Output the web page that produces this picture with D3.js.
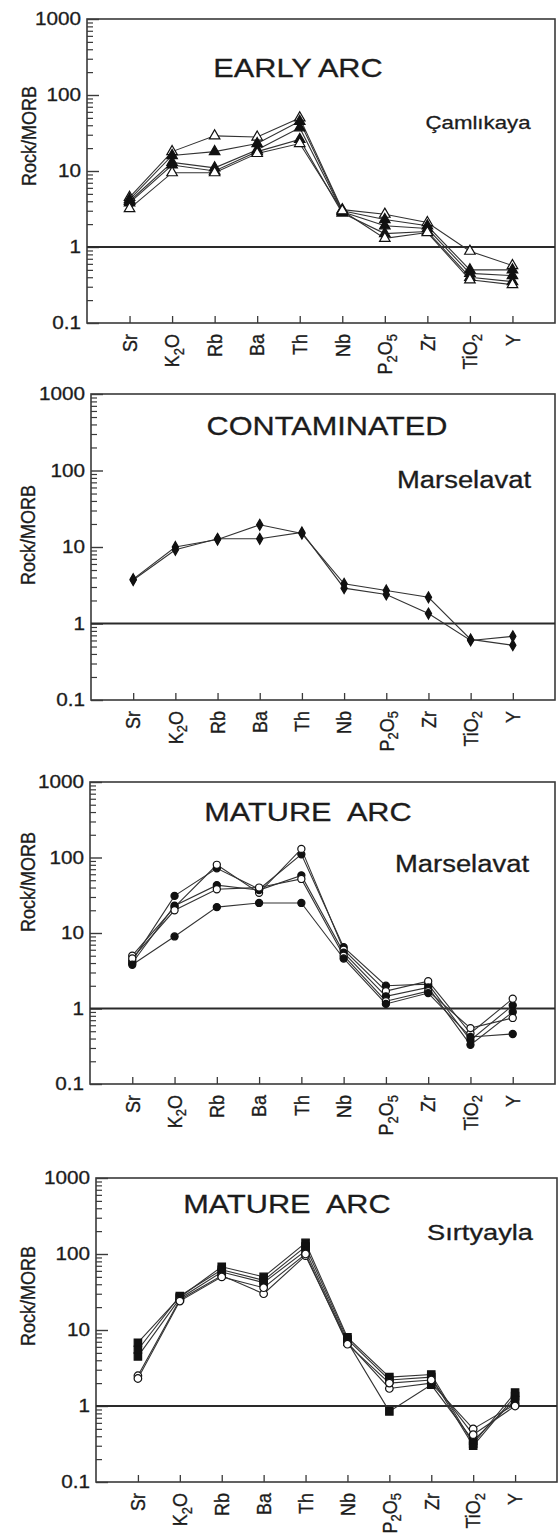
<!DOCTYPE html>
<html>
<head>
<meta charset="utf-8">
<script src="https://cdn.jsdelivr.net/npm/d3@7"></script>
<style>
  html, body { margin: 0; padding: 0; background: #fff; }
  svg { display: block; }
  text { font-family: "Liberation Sans", Arial, Helvetica, sans-serif; fill: #1c1c1c; stroke: #1c1c1c; stroke-width: 0.3; }
</style>
</head>
<body>
<svg id="chart" width="559" height="1538"></svg>
<script>
// MORB-normalised spider diagrams (Rock/MORB), four suites

const elements = ["Sr", "K2O", "Rb", "Ba", "Th", "Nb", "P2O5", "Zr", "TiO2", "Y"];
// label pieces: [text, isSubscript]
const elementLabels = [
  [["Sr", 0]],
  [["K", 0], ["2", 1], ["O", 0]],
  [["Rb", 0]],
  [["Ba", 0]],
  [["Th", 0]],
  [["Nb", 0]],
  [["P", 0], ["2", 1], ["O", 0], ["5", 1]],
  [["Zr", 0]],
  [["TiO", 0], ["2", 1]],
  [["Y", 0]]
];
const yTickValues = [0.1, 1, 10, 100, 1000];
const yTickLabels = ["0.1", "1", "10", "100", "1000"];
const yAxisTitle = "Rock/MORB";

// Early arc — Çamlıkaya
const camlikayaA = [4.5, 18, 29, 28, 50, 3.1, 2.7, 2.1, 0.88, 0.57];
const camlikayaB = [4.2, 16, 18, 23, 45, 3.0, 2.3, 1.9, 0.5, 0.5];
const camlikayaC = [4.0, 13, 11, 19, 37, 2.9, 1.9, 1.75, 0.45, 0.42];
const camlikayaD = [3.8, 12, 10, 18, 26, 2.8, 1.5, 1.6, 0.4, 0.35];
const camlikayaE = [3.2, 9.5, 9.5, 17, 23, 3.0, 1.3, 1.55, 0.37, 0.32];

// Contaminated — Marselavat
const contaminatedA = [3.8, 10, 12.5, 19.5, 15, 3.3, 2.7, 2.2, 0.62, 0.52];
const contaminatedB = [3.7, 9.2, 12.8, 12.8, 15.5, 2.9, 2.4, 1.35, 0.6, 0.68];

// Mature arc — Marselavat
const matureMarselavatA = [4.3, 31, 72, 38, 110, 6.5, 2.0, 2.1, 0.38, 1.1];
const matureMarselavatB = [5.0, 22, 80, 34, 130, 6.0, 1.7, 2.3, 0.47, 1.35];
const matureMarselavatC = [4.0, 23, 43, 37, 58, 5.5, 1.45, 1.9, 0.33, 0.9];
const matureMarselavatD = [4.6, 20, 38, 40, 52, 5.0, 1.25, 1.7, 0.55, 0.75];
const matureMarselavatE = [3.8, 9, 22, 25, 25, 4.6, 1.15, 1.6, 0.42, 0.46];

// Mature arc — Sırtyayla
const sirtyaylaA = [6.8, 27, 68, 50, 140, 8.0, 2.4, 2.6, 0.32, 1.5];
const sirtyaylaB = [5.5, 28, 62, 45, 125, 7.5, 2.2, 2.4, 0.3, 1.35];
const sirtyaylaC = [2.5, 25, 52, 30, 95, 6.8, 1.7, 2.0, 0.5, 1.05];
const sirtyaylaD = [4.5, 26, 58, 42, 110, 7.0, 0.85, 1.9, 0.35, 1.2];
const sirtyaylaE = [2.3, 24, 50, 36, 100, 6.5, 2.0, 2.2, 0.42, 1.0];

const panels = [
  {
    title: "EARLY ARC", locality: "Çamlıkaya",
    box: { left: 87, right: 555, top: 19, bottom: 323 },
    titlePos: [298, 77], localityPos: [478, 129], localityFont: 19, localityWidth: 105,
    yTitlePos: [29, 136],
    series: [
      { values: camlikayaA, symbol: d3.symbolTriangle, size: 48, open: true },
      { values: camlikayaB, symbol: d3.symbolTriangle, size: 48, open: false },
      { values: camlikayaC, symbol: d3.symbolTriangle, size: 48, open: false },
      { values: camlikayaD, symbol: d3.symbolTriangle, size: 48, open: false },
      { values: camlikayaE, symbol: d3.symbolTriangle, size: 48, open: true }
    ]
  },
  {
    title: "CONTAMINATED", locality: "Marselavat",
    box: { left: 91, right: 555, top: 394, bottom: 700 },
    titlePos: [327, 435], localityPos: [464, 488], localityFont: 23, localityWidth: 134,
    yTitlePos: [28, 535],
    series: [
      { values: contaminatedA, symbol: d3.symbolDiamond, size: 34, open: false },
      { values: contaminatedB, symbol: d3.symbolDiamond, size: 34, open: false }
    ]
  },
  {
    title: "MATURE  ARC", locality: "Marselavat",
    box: { left: 90, right: 555, top: 782, bottom: 1084 },
    titlePos: [308, 821], localityPos: [462, 872], localityFont: 23, localityWidth: 134,
    yTitlePos: [28, 882],
    series: [
      { values: matureMarselavatA, symbol: d3.symbolCircle, size: 40, open: false },
      { values: matureMarselavatB, symbol: d3.symbolCircle, size: 40, open: true },
      { values: matureMarselavatC, symbol: d3.symbolCircle, size: 40, open: false },
      { values: matureMarselavatD, symbol: d3.symbolCircle, size: 40, open: true },
      { values: matureMarselavatE, symbol: d3.symbolCircle, size: 40, open: false }
    ]
  },
  {
    title: "MATURE  ARC", locality: "Sırtyayla",
    box: { left: 96, right: 557, top: 1178, bottom: 1482 },
    titlePos: [287, 1213], localityPos: [480, 1240], localityFont: 22, localityWidth: 106,
    yTitlePos: [28, 1296],
    series: [
      { values: sirtyaylaA, symbol: d3.symbolSquare, size: 55, open: false },
      { values: sirtyaylaB, symbol: d3.symbolSquare, size: 55, open: false },
      { values: sirtyaylaC, symbol: d3.symbolCircle, size: 45, open: true },
      { values: sirtyaylaD, symbol: d3.symbolSquare, size: 55, open: false },
      { values: sirtyaylaE, symbol: d3.symbolCircle, size: 45, open: true }
    ]
  }
];

const svg = d3.select("#chart");
const ink = "#1c1c1c";

// widen horizontal text by a factor (glyphs drawn slightly broad)
function widen(sel, factor) {
  sel.each(function () {
    const len = this.getComputedTextLength();
    d3.select(this).attr("textLength", len * factor).attr("lengthAdjust", "spacingAndGlyphs");
  });
}

// minor log ticks: 2..9 within each decade
const minorTicks = [];
[0.1, 1, 10, 100].forEach(d => { for (let k = 2; k <= 9; k++) minorTicks.push(+(d * k).toPrecision(3)); });

panels.forEach(p => {
  const { left, right, top, bottom } = p.box;
  const g = svg.append("g");

  const x = d3.scalePoint().domain(elements).range([left, right]).padding(1);
  const y = d3.scaleLog().domain([0.1, 1000]).range([bottom, top]);

  // frame
  g.append("rect")
    .attr("x", left).attr("y", top)
    .attr("width", right - left).attr("height", bottom - top)
    .attr("fill", "none").attr("stroke", "#3a3a3a").attr("stroke-width", 1.6);

  // minor y ticks (inward)
  const minorAxis = g.append("g").attr("transform", `translate(${left},0)`)
    .call(d3.axisLeft(y).tickValues(minorTicks).tickSizeInner(-6).tickSizeOuter(0).tickFormat(""));
  minorAxis.select(".domain").remove();
  minorAxis.selectAll("line").attr("stroke", "#3a3a3a").attr("stroke-width", 1.2);

  // major y ticks with labels
  const majorAxis = g.append("g").attr("transform", `translate(${left},0)`)
    .call(d3.axisLeft(y).tickValues(yTickValues).tickSizeInner(-12).tickSizeOuter(0).tickPadding(6)
      .tickFormat((d, i) => yTickLabels[i]));
  majorAxis.select(".domain").remove();
  majorAxis.selectAll("line").attr("stroke", "#3a3a3a").attr("stroke-width", 1.4);
  majorAxis.selectAll("text")
    .attr("font-size", 18).attr("fill", ink)
    .style("font-family", "'Liberation Sans', Arial, sans-serif");
  widen(majorAxis.selectAll("text"), 1.15);

  // x ticks (inward)
  const xAxis = g.append("g").attr("transform", `translate(0,${bottom})`)
    .call(d3.axisBottom(x).tickSizeInner(-7).tickSizeOuter(0).tickFormat(""));
  xAxis.select(".domain").remove();
  xAxis.selectAll("line").attr("stroke", "#3a3a3a").attr("stroke-width", 1.3);

  // rotated element labels
  elements.forEach((e, i) => {
    const t = g.append("text")
      .attr("transform", `translate(${x(e)},${bottom + 11}) rotate(-90) scale(1,1.12)`)
      .attr("text-anchor", "end")
      .attr("dy", "0.36em")
      .attr("font-size", 18);
    let shifted = false;
    elementLabels[i].forEach(([s, sub]) => {
      const ts = t.append("tspan").text(s);
      if (sub && !shifted) { ts.attr("font-size", 13).attr("dy", 4); shifted = true; }
      else if (sub && shifted) { ts.attr("font-size", 13); }
      else if (!sub && shifted) { ts.attr("dy", -4); shifted = false; }
    });
  });

  // reference line at Rock/MORB = 1
  g.append("line")
    .attr("x1", left).attr("x2", right)
    .attr("y1", y(1)).attr("y2", y(1))
    .attr("stroke", "#2a2a2a").attr("stroke-width", 2);

  // y title
  g.append("text")
    .attr("transform", `translate(${p.yTitlePos[0]},${p.yTitlePos[1]}) rotate(-90) scale(1,1.12)`)
    .attr("text-anchor", "middle").attr("dy", "0.36em")
    .attr("font-size", 18)
    .text(yAxisTitle);

  // titles
  const title = g.append("text")
    .attr("x", p.titlePos[0]).attr("y", p.titlePos[1])
    .attr("text-anchor", "middle").attr("font-size", 26)
    .style("white-space", "pre")
    .text(p.title);
  widen(title, 1.18);
  g.append("text")
    .attr("x", p.localityPos[0]).attr("y", p.localityPos[1])
    .attr("text-anchor", "middle").attr("font-size", p.localityFont)
    .attr("textLength", p.localityWidth).attr("lengthAdjust", "spacingAndGlyphs")
    .text(p.locality);

  // sample patterns
  const line = d3.line().x((d, i) => x(elements[i])).y(d => y(d));
  p.series.forEach(s => {
    g.append("path")
      .attr("d", line(s.values))
      .attr("fill", "none").attr("stroke", "#333").attr("stroke-width", 1.1);
  });
  p.series.forEach(s => {
    const sym = d3.symbol().type(s.symbol).size(s.size);
    g.append("g").selectAll("path")
      .data(s.values)
      .join("path")
      .attr("transform", (d, i) => `translate(${x(elements[i])},${y(d)})`)
      .attr("d", sym)
      .attr("fill", s.open ? "#fff" : "#111")
      .attr("stroke", "#111").attr("stroke-width", 1.2);
  });
});
</script>
</body>
</html>
